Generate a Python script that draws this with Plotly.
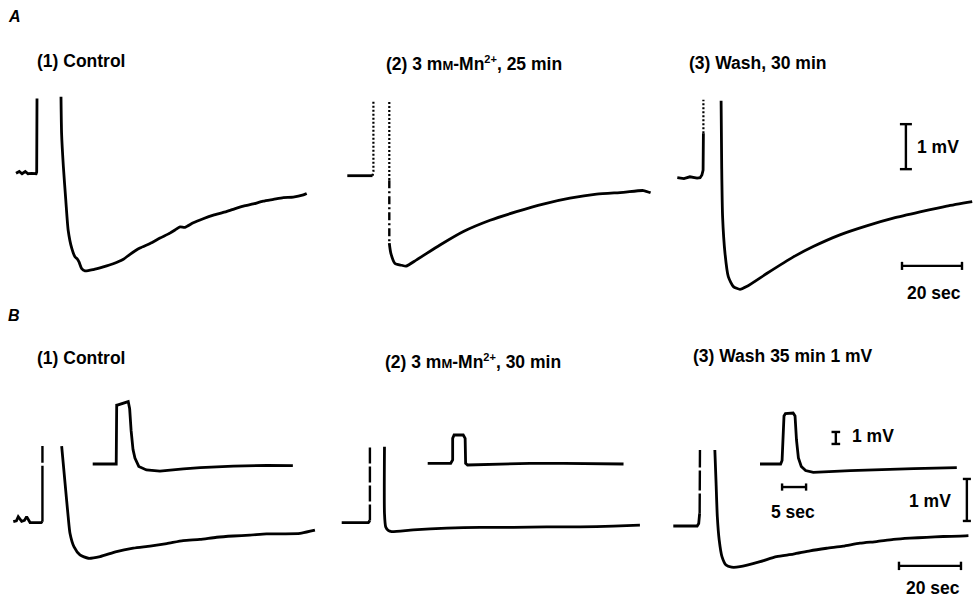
import plotly.graph_objects as go

W, H = 973, 597

# ---------------- data (time in s, voltage in mV relative to baseline) ----------------
# Panel A (1) Control
A1_pre_t = [0, 1.1, 2.0, 3.1, 4.0, 5.2, 6.7, 6.9, 7.0]
A1_pre_v = [0.0, 0.04, -0.01, 0.04, -0.01, 0.0, -0.01, 0.03, 1.66]
A1_post_t = [15.0, 15.2, 15.8, 16.6, 17.4, 18.6, 19.7, 20.4, 21.0, 21.9, 23.0, 25.8, 29.1, 32.4,
             35.8, 38.0, 41.3, 44.7, 48.0, 51.3, 53.0, 54.7, 56.3, 59.1, 62.4, 65.8, 69.1, 72.4,
             75.8, 79.1, 82.4, 85.8, 89.1, 92.4, 95.8, 96.9]
A1_post_v = [1.70, 0.88, 0.14, -0.60, -1.27, -1.67, -1.86, -1.90, -1.97, -2.12, -2.17, -2.14, -2.08,
             -2.01, -1.91, -1.80, -1.66, -1.56, -1.44, -1.33, -1.26, -1.19, -1.20, -1.10, -1.01,
             -0.93, -0.87, -0.80, -0.73, -0.68, -0.62, -0.58, -0.54, -0.53, -0.48, -0.45]

# Panel A (2) 3 mM-Mn2+, 25 min
A2_pre_t = [0, 8.4, 8.7, 8.7]
A2_pre_v = [0.0, 0.0, 0.09, 1.68]
A2_post_t = [14.0, 14.0, 14.0, 14.5, 15.9, 18.1, 19.6, 23.1, 30.9, 38.7, 47.6, 56.4, 65.3, 74.2,
             83.1, 92.0, 98.7, 101.1]
A2_post_v = [1.64, -0.10, -1.50, -1.72, -1.95, -1.99, -2.01, -1.87, -1.54, -1.24, -0.99, -0.80,
             -0.63, -0.50, -0.41, -0.37, -0.33, -0.38]

# Panel A (3) Wash, 30 min
A3_pre_t = [0, 2.2, 4.2, 6.6, 7.6, 8.2, 8.6, 8.7, 8.7]
A3_pre_v = [0.0, -0.02, 0.02, -0.01, 0.0, 0.06, 0.17, 0.99, 1.73]
A3_post_t = [14.6, 14.8, 15.1, 15.9, 17.0, 18.7, 20.9, 23.1, 29.8, 38.7, 45.3, 54.2, 63.1, 72.0,
             80.9, 89.8, 98.3]
A3_post_v = [1.71, 0.24, -0.87, -1.68, -2.20, -2.42, -2.48, -2.42, -2.13, -1.76, -1.53, -1.27,
             -1.07, -0.90, -0.76, -0.63, -0.53]

# Panel B (1) Control
B1_pre_t = [0, 1.0, 1.6, 2.7, 3.6, 4.3, 5.4, 9.0, 9.4, 9.4]
B1_pre_v = [0.0, 0.02, 0.12, 0.01, 0.03, 0.12, -0.02, -0.02, 0.0, 1.80]
B1_post_t = [15.6, 16.7, 17.7, 18.3, 19.6, 21.5, 24.2, 28.0, 33.3, 38.7, 44.1, 49.5, 54.8, 60.2,
             65.6, 71.0, 76.3, 81.7, 87.1, 92.5, 96.2, 97.3]
B1_post_v = [1.80, 0.91, 0.12, -0.28, -0.60, -0.79, -0.87, -0.83, -0.71, -0.63, -0.58, -0.52,
             -0.45, -0.42, -0.37, -0.34, -0.32, -0.29, -0.29, -0.28, -0.22, -0.20]
B1_in_t = [0, 4.9, 5.0, 5.1, 7.4, 7.7, 8.0, 8.4, 8.8, 9.6, 11.2, 14.0, 18.9, 22.4, 29.3, 36.3, 41.7]
B1_in_v = [0.0, 0.0, 5.0, 4.9, 5.2, 4.6, 2.8, 1.2, 0.5, -0.2, -0.5, -0.6, -0.4, -0.3, -0.17,
           -0.11, -0.14]

# Panel B (2) 3 mM-Mn2+, 30 min
B2_pre_t = [0, 8.6, 9.1, 9.1]
B2_pre_v = [0.0, 0.0, 0.05, 1.81]
B2_post_t = [13.8, 13.8, 14.2, 15.1, 16.1, 23.1, 33.9, 44.6, 55.4, 66.1, 76.9, 87.6, 96.2]
B2_post_v = [1.81, 0.22, -0.10, -0.19, -0.21, -0.17, -0.13, -0.11, -0.11, -0.10, -0.10, -0.08, -0.06]
B2_in_t = [0, 4.8, 5.2, 5.2, 5.5, 7.4, 7.8, 7.9, 8.3, 14.4, 21.3, 28.3, 40.8]
B2_in_v = [0.0, 0.0, 0.28, 2.08, 2.36, 2.36, 2.08, 0.0, -0.14, -0.08, 0.0, 0.0, -0.06]

# Panel B (3) Wash 35 min
B3_pre_t = [0, 7.7, 8.2, 8.5, 8.6]
B3_pre_v = [0.0, 0.0, 0.06, 0.30, 1.81]
B3_post_t = [13.4, 13.8, 14.2, 14.8, 15.7, 17.0, 18.8, 21.5, 28.0, 33.3, 38.7, 44.1, 49.5, 54.8,
             60.2, 65.6, 71.0, 76.3, 81.7, 87.1, 92.5, 95.2]
B3_post_v = [1.81, 1.02, 0.22, -0.33, -0.73, -0.93, -0.98, -0.97, -0.85, -0.73, -0.67, -0.59,
             -0.53, -0.48, -0.41, -0.37, -0.32, -0.29, -0.27, -0.25, -0.24, -0.23]
B3_in_t = [0, 4.3, 4.6, 4.8, 5.0, 5.3, 6.9, 7.3, 7.6, 8.0, 8.6, 9.5, 11.1, 18.8, 25.0, 32.0, 41.0]
B3_in_v = [0.0, 0.0, 0.3, 2.5, 4.0, 4.2, 4.25, 4.0, 2.0, 0.5, -0.2, -0.55, -0.7, -0.55, -0.45,
           -0.38, -0.3]

# scale-bar sizes (data units)
BAR_MV = 1.0
BAR_SEC_MAIN = 20.0
BAR_SEC_INSET = 5.0

# ---------------- layout helpers ----------------
fig = go.Figure()
BLACK = "black"
LW = 2.8


def setup_axes(i, box, origin, sx, sy):
    left, top, right, bottom = box
    ox, oy = origin
    key = "" if i == 1 else str(i)
    fig.update_layout(**{
        "xaxis" + key: dict(domain=[left / W, right / W],
                            range=[(left - ox) / sx, (right - ox) / sx],
                            visible=False, anchor="y" + key),
        "yaxis" + key: dict(domain=[1 - bottom / H, 1 - top / H],
                            range=[(oy - bottom) / sy, (oy - top) / sy],
                            visible=False, anchor="x" + key),
    })
    return "x" + key, "y" + key


def add_line(t, v, ax, i0=0, i1=None, dash="solid", width=LW, shape="linear"):
    if i1 is None:
        i1 = len(t) - 1
    fig.add_trace(go.Scatter(
        x=t[i0:i1 + 1], y=v[i0:i1 + 1], mode="lines", xaxis=ax[0], yaxis=ax[1],
        line=dict(color=BLACK, width=width, dash=dash, shape=shape, smoothing=0.6),
        hoverinfo="skip", showlegend=False, cliponaxis=False))


def vbar(ax, t, v0, length, cap):
    fig.add_trace(go.Scatter(
        x=[t, t, None, t - cap, t + cap, None, t - cap, t + cap],
        y=[v0, v0 + length, None, v0, v0, None, v0 + length, v0 + length],
        mode="lines", xaxis=ax[0], yaxis=ax[1], line=dict(color=BLACK, width=2.4),
        hoverinfo="skip", showlegend=False, cliponaxis=False))


def hbar(ax, t0, v, length, cap):
    fig.add_trace(go.Scatter(
        x=[t0, t0 + length, None, t0, t0, None, t0 + length, t0 + length],
        y=[v, v, None, v - cap, v + cap, None, v - cap, v + cap],
        mode="lines", xaxis=ax[0], yaxis=ax[1], line=dict(color=BLACK, width=2.4),
        hoverinfo="skip", showlegend=False, cliponaxis=False))


# axes: (box in px: left, top, right, bottom), origin px, px per s, px per mV
axA1 = setup_axes(1, (0, 85, 330, 305), (16.0, 173.3), 3.0, 45.0)
axA2 = setup_axes(2, (330, 85, 660, 305), (347.3, 175.7), 3.0, 45.0)
axA3 = setup_axes(3, (660, 85, 973, 305), (677.3, 177.7), 3.0, 45.0)
axB1 = setup_axes(4, (0, 385, 330, 597), (13.3, 521.7), 3.1, 42.0)
axB2 = setup_axes(5, (330, 385, 660, 597), (341.7, 522.7), 3.1, 42.0)
axB3 = setup_axes(6, (660, 385, 973, 597), (673.3, 526.0), 3.1, 42.0)
axB1i = setup_axes(7, (0, 385, 330, 597), (92.7, 464.0), 4.8, 12.0)
axB2i = setup_axes(8, (330, 385, 660, 597), (427.7, 463.3), 4.8, 12.0)
axB3i = setup_axes(9, (660, 385, 973, 597), (760.0, 464.0), 4.8, 12.0)

# ---------------- traces ----------------
# A1
add_line(A1_pre_t, A1_pre_v, axA1)
add_line(A1_post_t, A1_post_v, axA1, shape="spline")
# A2 (fast phases faint / dotted)
add_line(A2_pre_t, A2_pre_v, axA2, 0, 1)
add_line(A2_pre_t, A2_pre_v, axA2, 1, 3, dash="2px,2px", width=2.2)
add_line(A2_post_t, A2_post_v, axA2, 0, 1, dash="2px,2px", width=2.2)
add_line(A2_post_t, A2_post_v, axA2, 1, 2, dash="8px,3px,2px,3px", width=2.4)
add_line(A2_post_t, A2_post_v, axA2, 2, None, shape="spline")
# A3
add_line(A3_pre_t, A3_pre_v, axA3, 0, 7)
add_line(A3_pre_t, A3_pre_v, axA3, 7, 8, dash="2px,2px", width=2.2)
add_line(A3_post_t, A3_post_v, axA3, shape="spline")
# B1
add_line(B1_pre_t, B1_pre_v, axB1, 0, 8)
add_line(B1_pre_t, B1_pre_v, axB1, 8, 9, dash="56px,3px", width=2.4)
add_line(B1_post_t, B1_post_v, axB1, shape="spline")
add_line(B1_in_t, B1_in_v, axB1i)
# B2
add_line(B2_pre_t, B2_pre_v, axB2, 0, 2)
add_line(B2_pre_t, B2_pre_v, axB2, 2, 3, dash="16px,3px", width=2.4)
add_line(B2_post_t, B2_post_v, axB2, shape="spline")
add_line(B2_in_t, B2_in_v, axB2i)
# B3
add_line(B3_pre_t, B3_pre_v, axB3, 0, 3)
add_line(B3_pre_t, B3_pre_v, axB3, 3, 4, dash="20px,3px", width=2.4)
add_line(B3_post_t, B3_post_v, axB3, shape="spline")
add_line(B3_in_t, B3_in_v, axB3i)

# ---------------- scale bars ----------------
vbar(axA3, 76.2, 0.19, BAR_MV, 2.0)
hbar(axA3, 74.9, -1.96, BAR_SEC_MAIN, 0.09)
vbar(axB3, 94.7, 0.12, BAR_MV, 1.3)
hbar(axB3, 72.8, -0.95, BAR_SEC_MAIN, 0.1)
vbar(axB3i, 15.8, 1.67, BAR_MV, 0.9)
hbar(axB3i, 4.6, -1.92, BAR_SEC_INSET, 0.3)

# ---------------- text ----------------
FONT = dict(family="Liberation Sans, Arial, sans-serif", size=17.5, color=BLACK, weight="bold")
SMALLM = "m<span style='font-size:13px'>M</span>"
SUP = "<sup><span style='font-size:11px'>2+</span></sup>"


def label(text, x, y, anchor="left", size=None, weight="bold"):
    f = dict(FONT)
    if size:
        f["size"] = size
    f["weight"] = weight
    fig.add_annotation(text=text, x=x / W, y=1 - y / H, xref="paper", yref="paper",
                       xanchor=anchor, yanchor="middle", showarrow=False, font=f)


label("<i>A</i>", 6, 17, size=16)
label("<i>B</i>", 6, 315, size=16)
label("(1) Control", 35, 61)
label("(2) 3 " + SMALLM + "-Mn" + SUP + ", 25 min", 384, 63)
label("(3) Wash, 30 min", 687, 63)
label("(1) Control", 35, 358)
label("(2) 3 " + SMALLM + "-Mn" + SUP + ", 30 min", 383, 361)
label("(3) Wash 35 min 1 mV", 691, 356)
label("1 mV", 915, 147)
label("20 sec", 934, 293, anchor="center")
label("1 mV", 873, 436, anchor="center")
label("5 sec", 793, 512, anchor="center")
label("1 mV", 930, 501, anchor="center")
label("20 sec", 933, 588, anchor="center")

fig.update_layout(width=W, height=H, margin=dict(l=0, r=0, t=0, b=0),
                  paper_bgcolor="white", plot_bgcolor="rgba(0,0,0,0)", showlegend=False)

fig.write_html("out.html")
